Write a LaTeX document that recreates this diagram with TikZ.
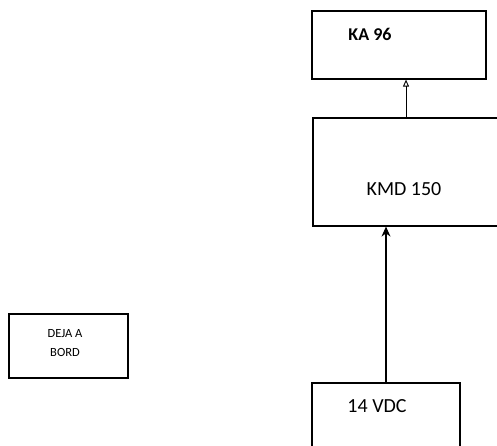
\documentclass[tikz,border=0pt]{standalone}
\usepackage{fontspec}
\setmainfont{Carlito}
\usetikzlibrary{arrows.meta,positioning}

\begin{document}
\begin{tikzpicture}[
  x=1pt, y=-1pt,
  box/.style={draw, line width=1.2pt, rectangle, inner sep=0pt},
  lbl/.style={inner sep=0pt, font=\fontsize{20}{23}\selectfont},
  link/.style={draw, line width=1.2pt}
]
\useasboundingbox (0,0) rectangle (497,446);
\clip (0,0) rectangle (497,446);
% boxes
\node[box, minimum width=174pt, minimum height=68pt] (ka) at (399,45) {};
\node[box, minimum width=202pt, minimum height=108pt] (kmd) at (414,172) {};
\node[box, minimum width=148pt, minimum height=87pt] (vdc) at (386,426.5) {};
\node[box, minimum width=119pt, minimum height=64pt] (deja) at (68.5,346) {};
% texts
\node[lbl, font=\fontsize{18}{21}\selectfont\bfseries] (kalbl) at (370,34) {KA 96};
\node[lbl] (kmdlbl) at (404,189) {KMD 150};
\node[lbl] (vdclbl) at (377,406) {14 VDC};
\node[lbl, font=\fontsize{12.5}{19}\selectfont, align=center] (dejalbl) at (65,343) {DEJA A\\BORD};
% connectors
\draw[link, line width=0.9pt, -{Triangle[open, length=7pt, width=6pt]}] ([xshift=7pt]kmd.north -| ka.south) -- ([xshift=7pt]ka.south);
\draw[link, -{Stealth[length=10pt, width=9pt]}] (vdc.north) -- (vdc.north |- kmd.south);
\end{tikzpicture}
\end{document}
